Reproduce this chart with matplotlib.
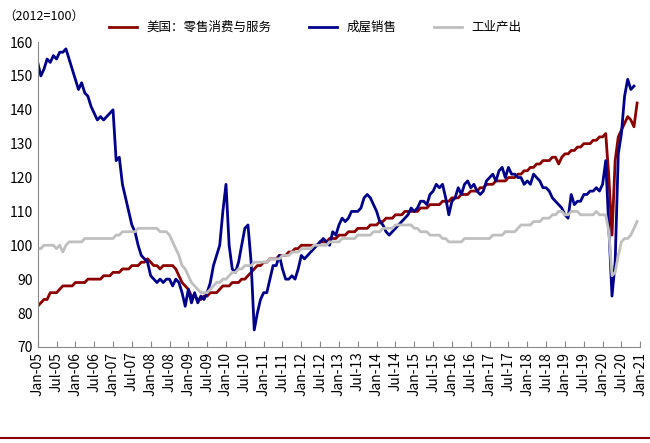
import matplotlib
matplotlib.use("Agg")
import matplotlib.pyplot as plt
import numpy as np
import pandas as pd

plt.rcParams['font.family'] = ['Noto Sans CJK SC', 'DejaVu Sans']

house = [154,150,152,155,154,156,155,157,157,158,155,152,
 149,146,148,145,144,141,139,137,138,137,138,139,
 140,125,126,118,114,110,106,104,100,97,96,95,
 91,90,89,90,89,90,90,88,90,89,86,82,
 87,83,86,83,85,84,86,89,94,97,100,110,
 118,100,93,92,95,100,105,106,95,75,80,84,
 86,86,90,94,94,97,93,90,90,91,90,93,
 97,96,97,98,99,100,101,102,101,100,104,103,
 106,108,107,108,110,110,110,111,114,115,114,112,
 110,107,106,104,103,104,105,106,107,108,109,111,
 110,111,113,113,112,115,116,118,117,118,114,109,
 113,114,117,115,118,119,117,118,116,115,116,119,
 120,121,119,122,123,120,123,121,121,120,120,118,
 119,118,121,120,119,117,117,116,114,113,112,111,
 109,108,115,112,113,113,115,115,116,116,117,116,
 118,125,105,85,95,127,133,144,149,146,147]
retail = [82,83,84,84,86,86,86,87,88,88,88,88,
 89,89,89,89,90,90,90,90,90,91,91,91,
 92,92,92,93,93,93,94,94,94,95,95,96,
 95,94,94,93,94,94,94,94,93,91,89,88,
 87,85,85,84,84,85,85,86,86,86,87,88,
 88,88,89,89,89,90,90,91,92,93,94,94,
 95,95,96,96,96,97,97,97,98,98,99,99,
 100,100,100,100,100,100,101,101,101,102,102,102,
 103,103,103,104,104,104,105,105,105,105,106,106,
 106,107,107,108,108,108,109,109,109,110,110,110,
 110,110,111,111,111,112,112,112,112,113,113,113,
 114,114,114,115,115,115,116,116,116,117,117,118,
 118,118,119,119,119,119,120,120,120,121,121,122,
 122,123,123,124,124,125,125,125,126,126,124,126,
 127,127,128,128,129,129,130,130,130,131,131,132,
 132,133,120,103,125,132,134,136,138,137,135,142]
indus = [99,99,100,100,100,100,99,100,98,100,101,101,
 101,101,101,102,102,102,102,102,102,102,102,102,
 102,103,103,104,104,104,104,104,105,105,105,105,
 105,105,105,104,104,104,103,101,99,97,94,93,
 91,89,88,87,86,86,86,87,88,89,89,90,
 90,91,92,92,93,93,94,94,94,95,95,95,
 95,95,96,96,96,96,97,97,97,98,98,98,
 99,99,99,99,100,100,100,100,100,101,101,101,
 101,102,102,102,102,102,103,103,103,103,103,104,
 104,104,105,105,105,105,106,106,106,106,106,106,
 105,105,104,104,104,103,103,103,103,102,102,101,
 101,101,101,101,102,102,102,102,102,102,102,102,
 102,103,103,103,103,104,104,104,104,105,106,106,
 106,106,107,107,107,108,108,108,109,109,110,110,
 109,109,110,110,110,109,109,109,109,109,110,109,
 109,109,104,91,92,97,101,102,102,103,105,107]
labels = ["美国：零售消费与服务", "成屋销售", "工业产出"]

fig = plt.figure(figsize=(6.5, 4.43), dpi=100)
ax = fig.add_axes([0.058, 0.217, 0.927, 0.688])
ax.plot(np.arange(len(retail)), retail, color='#8B0000', lw=2, label=labels[0])
ax.plot(np.arange(len(house)), house, color='#00008B', lw=2, label=labels[1])
ax.plot(np.arange(len(indus)), indus, color='#BFBFBF', lw=2, label=labels[2])
ax.set_xlim(0, 192)
ax.set_ylim(70, 160)
ax.set_yticks(range(70, 161, 10))
ticks = np.arange(0, 193, 6)
dates = pd.date_range('2005-01-01', periods=len(ticks), freq='6MS')
ax.set_xticks(ticks)
ax.set_xticklabels([d.strftime('%b-%y') for d in dates], rotation=90, fontsize=10)
ax.tick_params(axis='y', labelsize=10, length=0)
ax.tick_params(axis='x', direction='in', length=4, color='#888888')
for s in ['top', 'right']:
    ax.spines[s].set_visible(False)
for s in ['left', 'bottom']:
    ax.spines[s].set_color('#888888')
ax.legend(loc='lower left', bbox_to_anchor=(0.1, 0.99), ncol=3, frameon=False,
          fontsize=9, handlelength=2.2, columnspacing=3)
fig.text(0.005, 0.955, "（2012=100）", fontsize=9)
fig.add_artist(plt.Line2D([0, 1], [0.012, 0.012], color='#8B0000', lw=1.5))
fig.savefig('out.png', dpi=100)
